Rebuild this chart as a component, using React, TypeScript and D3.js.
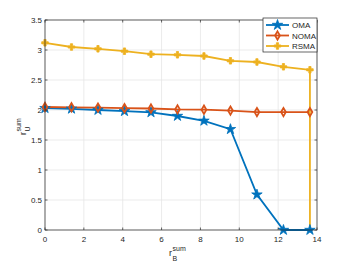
import React from 'react';
import * as d3 from 'd3';

const xValues = [0, 1.364, 2.727, 4.091, 5.455, 6.818, 8.182, 9.545, 10.909, 12.273, 13.636];
const omaValues = [2.03, 2.02, 2.0, 1.98, 1.96, 1.9, 1.82, 1.68, 0.59, 0.0, 0.0];
const nomaValues = [2.05, 2.045, 2.04, 2.03, 2.025, 2.01, 2.005, 1.99, 1.965, 1.965, 1.965];
const rsmaValues = [3.12, 3.05, 3.02, 2.98, 2.93, 2.92, 2.9, 2.82, 2.8, 2.72, 2.67];
const rsmaDrop = [[13.636, 2.67], [13.636, 0]];

const xTicks = [0, 2, 4, 6, 8, 10, 12, 14];
const yTicks = [0, 0.5, 1, 1.5, 2, 2.5, 3, 3.5];
const seriesNames = ['OMA', 'NOMA', 'RSMA'];
const seriesColors = ['#0072BD', '#D95319', '#EDB120'];

const W = 350;
const H = 263;
const left = 45;
const right = 317;
const top = 20;
const bottom = 230;

export default function App() {
  const x = d3.scaleLinear().domain([0, 14]).range([left, right]);
  const y = d3.scaleLinear().domain([0, 3.5]).range([bottom, top]);
  const line = d3.line<[number, number]>().x(d => x(d[0])).y(d => y(d[1]));
  const series = [omaValues, nomaValues, rsmaValues].map(v => xValues.map((xv, i) => [xv, v[i]] as [number, number]));

  const star = d3.symbol().type(d3.symbolStar).size(34)() as string;
  const diamond = d3.symbol().type(d3.symbolDiamond).size(20)() as string;
  const cross = d3.symbol().type(d3.symbolCross).size(24)() as string;

  const marker = (k: number, cx: number, cy: number, key: string | number) => {
    const c = seriesColors[k];
    if (k === 0) return <path key={key} d={star} transform={`translate(${cx},${cy})`} fill={c} stroke={c} strokeWidth={0.8} />;
    if (k === 1) return <path key={key} d={diamond} transform={`translate(${cx},${cy})`} fill="none" stroke={c} strokeWidth={1.8} />;
    return <path key={key} d={cross} transform={`translate(${cx},${cy})`} fill={c} stroke={c} strokeWidth={0.8} />;
  };

  const font = 'Liberation Sans, Arial, sans-serif';
  const axisColor = '#262626';
  const legX = 263;
  const legY = 18;

  return (
    <svg width={W} height={H} style={{ position: 'absolute', left: 0, top: 0, background: '#fff' }} fontFamily={font}>
      <rect x={left} y={top} width={right - left} height={bottom - top} fill="#fff" />
      {/* grid */}
      {xTicks.map(t => (
        <line key={'gx' + t} x1={x(t)} x2={x(t)} y1={top} y2={bottom} stroke="#e6e6e6" strokeWidth={0.8} />
      ))}
      {yTicks.map(t => (
        <line key={'gy' + t} x1={left} x2={right} y1={y(t)} y2={y(t)} stroke="#e6e6e6" strokeWidth={0.8} />
      ))}
      {/* lines */}
      {series.map((s, k) => (
        <path key={'l' + k} d={line(s) as string} fill="none" stroke={seriesColors[k]} strokeWidth={1.8} />
      ))}
      <path d={line(rsmaDrop as [number, number][]) as string} fill="none" stroke={seriesColors[2]} strokeWidth={1.8} />
      {series.map((s, k) => s.map((p, i) => marker(k, x(p[0]), y(p[1]), `m${k}-${i}`)))}
      {/* axes box */}
      <rect x={left} y={top} width={right - left} height={bottom - top} fill="none" stroke={axisColor} strokeWidth={0.7} />
      {xTicks.map(t => (
        <g key={'xt' + t}>
          <line x1={x(t)} x2={x(t)} y1={bottom} y2={bottom - 2.5} stroke={axisColor} strokeWidth={0.7} />
          <line x1={x(t)} x2={x(t)} y1={top} y2={top + 2.5} stroke={axisColor} strokeWidth={0.7} />
          <text x={x(t)} y={bottom + 12} textAnchor="middle" fontSize={8} fill={axisColor}>{t}</text>
        </g>
      ))}
      {yTicks.map(t => (
        <g key={'yt' + t}>
          <line x1={left} x2={left + 2.5} y1={y(t)} y2={y(t)} stroke={axisColor} strokeWidth={0.7} />
          <line x1={right} x2={right - 2.5} y1={y(t)} y2={y(t)} stroke={axisColor} strokeWidth={0.7} />
          <text x={left - 3} y={y(t) + 3} textAnchor="end" fontSize={8} fill={axisColor}>{t}</text>
        </g>
      ))}
      {/* axis labels */}
      <g fill={axisColor}>
        <text x={169} y={256} fontSize={9}>r</text>
        <text x={172.5} y={251} fontSize={7}>sum</text>
        <text x={172.5} y={261} fontSize={7}>B</text>
      </g>
      <g fill={axisColor} transform="translate(26,135) rotate(-90)">
        <text x={0} y={0} fontSize={9}>r</text>
        <text x={3.5} y={-5} fontSize={7}>sum</text>
        <text x={3.5} y={4} fontSize={7}>U</text>
      </g>
      {/* legend */}
      <rect x={legX} y={legY} width={54} height={34} fill="#fff" stroke={axisColor} strokeWidth={0.7} />
      {seriesNames.map((n, k) => {
        const ly = legY + 7 + k * 10.5;
        return (
          <g key={'lg' + k}>
            <line x1={legX + 3} x2={legX + 26} y1={ly} y2={ly} stroke={seriesColors[k]} strokeWidth={1.8} />
            {marker(k, legX + 14.5, ly, 'lm' + k)}
            <text x={legX + 29} y={ly + 3} fontSize={8} fill={axisColor}>{n}</text>
          </g>
        );
      })}
    </svg>
  );
}
